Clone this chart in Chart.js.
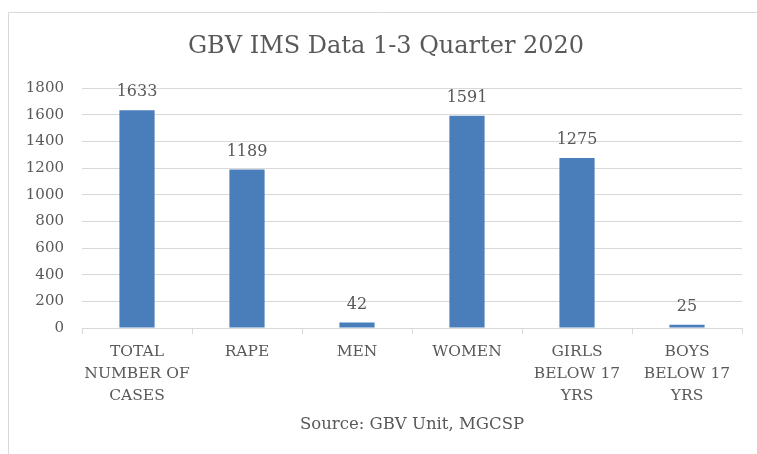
<!DOCTYPE html>
<html>
<head>
<meta charset="utf-8">
<script src="https://cdn.jsdelivr.net/npm/chart.js@4"></script>
<style>
  body { margin: 0; background: #fff; }
</style>
</head>
<body>
<canvas id="gbv-chart" width="757" height="454"></canvas>
<script>
const categories = [
    ['TOTAL', 'NUMBER OF', 'CASES'],
    ['RAPE'],
    ['MEN'],
    ['WOMEN'],
    ['GIRLS', 'BELOW 17', 'YRS'],
    ['BOYS', 'BELOW 17', 'YRS']
];
const caseCounts = [1633, 1189, 42, 1591, 1275, 25];
const chartTitle = 'GBV IMS Data 1-3 Quarter 2020';
const sourceNote = 'Source: GBV Unit, MGCSP';

const serif = "'DejaVu Serif', 'Liberation Serif', serif";
const textColor = '#595959';
const lineColor = '#d9d9d9';

// frame + title drawn by hand so they sit where the original has them
const framePlugin = {
    id: 'frame',
    beforeDraw(chart) {
        const c = chart.ctx;
        c.save();
        c.fillStyle = '#fff';
        c.fillRect(0, 0, chart.width, chart.height);
        c.strokeStyle = lineColor;
        c.lineWidth = 1;
        c.beginPath();
        c.moveTo(8.5, chart.height);
        c.lineTo(8.5, 12.5);
        c.lineTo(chart.width, 12.5);
        c.stroke();
        c.fillStyle = textColor;
        c.font = '24px ' + serif;
        c.textAlign = 'center';
        c.textBaseline = 'middle';
        c.fillText(chartTitle, 386, 47);
        c.restore();
    }
};

// value labels above each bar
const valueLabels = {
    id: 'valueLabels',
    afterDatasetsDraw(chart) {
        const c = chart.ctx;
        const meta = chart.getDatasetMeta(0);
        c.save();
        c.fillStyle = textColor;
        c.font = '16px ' + serif;
        c.textAlign = 'center';
        c.textBaseline = 'middle';
        meta.data.forEach((bar, i) => {
            c.fillText(caseCounts[i], bar.x, bar.y - 18);
        });
        c.restore();
    }
};

const ctx = document.getElementById('gbv-chart').getContext('2d');
const gbvChart = new Chart(ctx, {
    type: 'bar',
    data: {
        labels: categories,
        datasets: [{
            data: caseCounts,
            backgroundColor: '#4a7ebb',
            categoryPercentage: 1,
            barPercentage: 0.32
        }]
    },
    options: {
        responsive: false,
        animation: false,
        layout: { padding: { top: 88, right: 15, left: 0, bottom: 0 } },
        plugins: {
            legend: { display: false },
            tooltip: { enabled: false }
        },
        scales: {
            x: {
                grid: {
                    drawOnChartArea: false,
                    drawTicks: true,
                    tickLength: 6,
                    color: lineColor
                },
                border: { color: lineColor },
                ticks: {
                    color: textColor,
                    font: { family: serif, size: 15.5, lineHeight: 1.42 },
                    padding: 7,
                    maxRotation: 0,
                    autoSkip: false
                },
                title: {
                    display: true,
                    text: sourceNote,
                    color: textColor,
                    font: { family: serif, size: 16.5, lineHeight: 1.2 },
                    padding: { top: 0, bottom: 19 }
                },
                afterFit(scale) { scale.height = 126; }
            },
            y: {
                min: 0,
                max: 1800,
                ticks: {
                    stepSize: 200,
                    color: textColor,
                    font: { family: serif, size: 15 },
                    padding: 18,
                    callback: (value) => String(value)
                },
                grid: { color: lineColor, drawTicks: false },
                border: { display: false },
                afterFit(scale) { scale.width = 82; }
            }
        }
    },
    plugins: [framePlugin, valueLabels]
});
</script>
</body>
</html>
